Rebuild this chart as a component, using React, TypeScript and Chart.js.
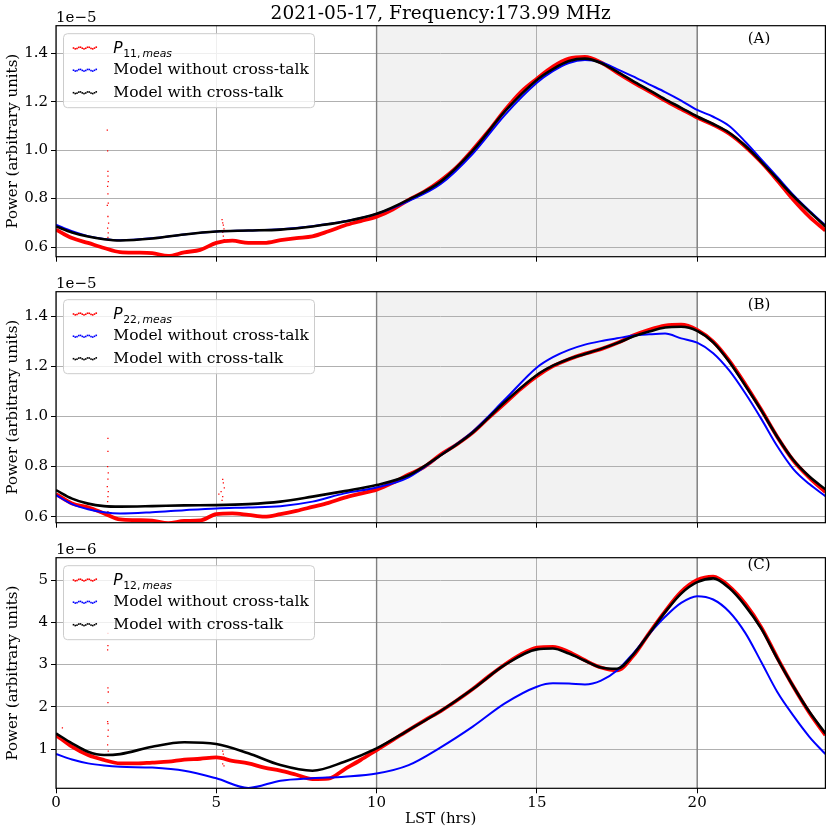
import React, { useEffect, useRef } from "react";
import { Chart, registerables } from "chart.js";

Chart.register(...registerables);

const TITLE = "2021-05-17, Frequency:173.99 MHz";
const X_TICKS = [0, 5, 10, 15, 20];
const SHADE_START = 10;
const SHADE_END = 20;
const LEGEND_MODEL_NO = "Model without cross-talk";
const LEGEND_MODEL_XT = "Model with cross-talk";

// model curves grid (hours)
const LST_MODEL = [0, 0.5, 1, 1.5, 2, 3, 4, 5, 6, 7, 8, 9, 10, 11, 12, 13, 14, 15, 15.5, 16, 16.5, 17, 17.5, 18, 18.5, 19, 19.5, 20, 20.5, 21, 21.5, 22, 22.5, 23, 23.5, 24];
// measured curves grid (hours)
const LST_MEAS = [0, 0.5, 1, 1.5, 2, 2.5, 3, 3.5, 4, 4.5, 5, 5.5, 6, 6.5, 7, 7.5, 8, 8.5, 9, 9.5, 10, 10.5, 11, 11.5, 12, 12.5, 13, 13.5, 14, 14.5, 15, 15.5, 16, 16.5, 17, 17.5, 18, 18.5, 19, 19.5, 20, 20.5, 21, 21.5, 22, 22.5, 23, 23.5, 24];

// Panel A (units of 1e-5)
const A_TICKS = [0.6, 0.8, 1.0, 1.2, 1.4];
const A_XT = [0.685, 0.66, 0.643, 0.632, 0.627, 0.635, 0.652, 0.664, 0.668, 0.672, 0.685, 0.705, 0.737, 0.796, 0.87, 0.998, 1.16, 1.29, 1.335, 1.368, 1.378, 1.36, 1.324, 1.285, 1.248, 1.21, 1.175, 1.139, 1.108, 1.072, 1.018, 0.952, 0.881, 0.81, 0.746, 0.685];
const A_NO = [0.692, 0.665, 0.645, 0.633, 0.628, 0.636, 0.652, 0.664, 0.668, 0.673, 0.686, 0.706, 0.737, 0.79, 0.86, 0.985, 1.145, 1.278, 1.326, 1.36, 1.372, 1.363, 1.335, 1.305, 1.272, 1.24, 1.205, 1.166, 1.138, 1.1, 1.035, 0.962, 0.889, 0.815, 0.75, 0.69];
const A_MEAS = [0.672, 0.637, 0.617, 0.596, 0.579, 0.577, 0.575, 0.563, 0.578, 0.588, 0.617, 0.626, 0.617, 0.617, 0.628, 0.637, 0.644, 0.665, 0.689, 0.707, 0.725, 0.755, 0.795, 0.83, 0.875, 0.93, 1.002, 1.08, 1.165, 1.24, 1.295, 1.345, 1.378, 1.385, 1.362, 1.32, 1.28, 1.243, 1.205, 1.17, 1.135, 1.105, 1.068, 1.015, 0.95, 0.875, 0.795, 0.725, 0.668];
const A_SPIKE_X = [1.6, 1.61, 1.62, 1.62, 1.63, 1.61, 1.62, 1.63, 1.6, 1.62, 1.64, 1.61, 1.63, 1.62, 5.18, 5.2, 5.22, 5.24, 5.2, 5.22, 5.25];
const A_SPIKE_Y = [1.083, 0.997, 0.912, 0.893, 0.87, 0.85, 0.819, 0.781, 0.772, 0.726, 0.699, 0.678, 0.658, 0.64, 0.713, 0.7, 0.69, 0.675, 0.66, 0.645, 0.63];

// Panel B (units of 1e-5)
const B_TICKS = [0.6, 0.8, 1.0, 1.2, 1.4];
const B_XT = [0.706, 0.672, 0.652, 0.642, 0.64, 0.642, 0.645, 0.646, 0.65, 0.66, 0.68, 0.702, 0.726, 0.765, 0.845, 0.936, 1.057, 1.165, 1.202, 1.229, 1.249, 1.269, 1.292, 1.318, 1.338, 1.354, 1.357, 1.341, 1.295, 1.218, 1.123, 1.024, 0.918, 0.826, 0.76, 0.709];
const B_NO = [0.686, 0.65, 0.63, 0.618, 0.613, 0.618, 0.626, 0.633, 0.637, 0.642, 0.66, 0.693, 0.716, 0.757, 0.845, 0.94, 1.067, 1.195, 1.236, 1.265, 1.286, 1.3, 1.311, 1.322, 1.327, 1.33, 1.311, 1.294, 1.252, 1.183, 1.092, 0.99, 0.881, 0.79, 0.73, 0.682];
const B_MEAS = [0.69, 0.653, 0.637, 0.613, 0.589, 0.586, 0.584, 0.574, 0.583, 0.585, 0.61, 0.613, 0.607, 0.6, 0.61, 0.623, 0.639, 0.655, 0.676, 0.692, 0.708, 0.735, 0.768, 0.8, 0.848, 0.888, 0.935, 0.995, 1.052, 1.11, 1.16, 1.2, 1.228, 1.25, 1.268, 1.292, 1.322, 1.345, 1.362, 1.366, 1.345, 1.298, 1.222, 1.128, 1.026, 0.918, 0.824, 0.756, 0.698];
const B_SPIKE_X = [1.62, 1.62, 1.61, 1.63, 1.62, 1.6, 1.63, 1.62, 1.61, 1.64, 1.62, 5.08, 5.15, 5.2, 5.22, 5.25, 5.2, 5.18];
const B_SPIKE_Y = [0.912, 0.86, 0.8, 0.775, 0.75, 0.72, 0.7, 0.68, 0.66, 0.64, 0.62, 0.69, 0.7, 0.749, 0.735, 0.715, 0.68, 0.665];

// Panel C (units of 1e-6)
const C_TICKS = [1, 2, 3, 4, 5];
const C_XT = [1.37, 1.135, 0.935, 0.858, 0.88, 1.055, 1.16, 1.12, 0.9, 0.621, 0.487, 0.7, 1.016, 1.45, 1.9, 2.42, 2.99, 3.36, 3.38, 3.26, 3.09, 2.93, 2.9, 3.23, 3.73, 4.24, 4.68, 4.95, 5.04, 4.81, 4.39, 3.85, 3.14, 2.48, 1.88, 1.37];
const C_NO = [0.882, 0.75, 0.66, 0.61, 0.58, 0.56, 0.487, 0.307, 0.08, 0.25, 0.307, 0.345, 0.42, 0.62, 1.04, 1.53, 2.08, 2.475, 2.555, 2.55, 2.53, 2.62, 2.86, 3.26, 3.72, 4.13, 4.46, 4.62, 4.54, 4.25, 3.75, 3.06, 2.35, 1.79, 1.29, 0.88];
const C_MEAS = [1.33, 1.055, 0.858, 0.74, 0.66, 0.66, 0.68, 0.7, 0.75, 0.77, 0.8, 0.72, 0.66, 0.56, 0.49, 0.39, 0.29, 0.3, 0.52, 0.74, 0.976, 1.21, 1.45, 1.68, 1.9, 2.15, 2.42, 2.72, 3.0, 3.24, 3.4, 3.42, 3.3, 3.1, 2.93, 2.86, 3.2, 3.74, 4.26, 4.72, 5.0, 5.08, 4.85, 4.44, 3.88, 3.16, 2.48, 1.86, 1.33];
const C_SPIKE_X = [1.62, 1.62, 1.61, 1.62, 1.63, 1.62, 1.61, 1.62, 1.63, 1.62, 1.61, 1.63, 0.2, 0.7, 5.2, 5.22, 5.25, 5.2, 5.24];
const C_SPIKE_Y = [3.74, 3.45, 3.35, 2.45, 2.35, 2.1, 1.65, 1.6, 1.45, 1.3, 1.1, 0.95, 1.5, 1.05, 0.95, 0.88, 0.8, 0.65, 0.6];

type PanelCfg = {
  top: number;
  height: number;
  padTop: number;
  xAxisH: number;
  yMin: number;
  yMax: number;
  yTicks: number[];
  yDecimals: number;
  xt: number[];
  no: number[];
  meas: number[];
  spikeX: number[];
  spikeY: number[];
  sub: string;
  offsetText: string;
  panelLabel: string;
  panelLabelDy: number;
  shade: string;
  showX: boolean;
  title?: string;
};

const PANELS: PanelCfg[] = [
  { top: 0, height: 270, padTop: 25.7, xAxisH: 13.3, yMin: 0.56, yMax: 1.514, yTicks: A_TICKS, yDecimals: 1, xt: A_XT, no: A_NO, meas: A_MEAS, spikeX: A_SPIKE_X, spikeY: A_SPIKE_Y, sub: "11", offsetText: "1e\u22125", panelLabel: "(A)", panelLabelDy: 13.6, shade: "#f2f2f2", showX: false, title: TITLE },
  { top: 270, height: 270, padTop: 21.7, xAxisH: 17.3, yMin: 0.576, yMax: 1.497, yTicks: B_TICKS, yDecimals: 1, xt: B_XT, no: B_NO, meas: B_MEAS, spikeX: B_SPIKE_X, spikeY: B_SPIKE_Y, sub: "22", offsetText: "1e\u22125", panelLabel: "(B)", panelLabelDy: 13.3, shade: "#f2f2f2", showX: false },
  { top: 540, height: 295, padTop: 17.7, xAxisH: 46.7, yMin: 0.07, yMax: 5.53, yTicks: C_TICKS, yDecimals: 0, xt: C_XT, no: C_NO, meas: C_MEAS, spikeX: C_SPIKE_X, spikeY: C_SPIKE_Y, sub: "12", offsetText: "1e\u22126", panelLabel: "(C)", panelLabelDy: 7, shade: "#f8f8f8", showX: true },
];

const SERIF = '"DejaVu Serif", serif';
const SANS = '"DejaVu Sans", sans-serif';

function zip(xs: number[], ys: number[]) {
  return xs.map((x, i) => ({ x, y: ys[i] }));
}

function drawMarker(ctx: CanvasRenderingContext2D, x0: number, y: number, color: string) {
  ctx.fillStyle = color;
  for (let i = 0; i < 14; i++) {
    const x = x0 + i * 1.75;
    const dy = Math.sin(i * 1.3) * 0.9;
    ctx.fillRect(x - 0.8, y + dy - 0.8, 1.6, 1.6);
  }
}

function makePlugin(cfg: PanelCfg) {
  return {
    id: "panelDeco",
    beforeDraw(chart: any) {
      const { ctx, chartArea: ca } = chart;
      const x = chart.scales.x;
      const x0 = x.getPixelForValue(SHADE_START);
      const x1 = x.getPixelForValue(SHADE_END);
      ctx.save();
      ctx.fillStyle = cfg.shade;
      ctx.fillRect(x0, ca.top, x1 - x0, ca.bottom - ca.top);
      ctx.restore();
    },
    beforeDatasetsDraw(chart: any) {
      const { ctx, chartArea: ca } = chart;
      const x = chart.scales.x;
      ctx.save();
      ctx.strokeStyle = "#808080";
      ctx.lineWidth = 1.4;
      for (const v of [SHADE_START, SHADE_END]) {
        const px = x.getPixelForValue(v);
        ctx.beginPath();
        ctx.moveTo(px, ca.top);
        ctx.lineTo(px, ca.bottom);
        ctx.stroke();
      }
      ctx.restore();
    },
    afterDraw(chart: any) {
      const { ctx, chartArea: ca } = chart;
      ctx.save();
      // frame
      ctx.strokeStyle = "#000";
      ctx.lineWidth = 1.2;
      ctx.strokeRect(ca.left, ca.top, ca.right - ca.left, ca.bottom - ca.top);

      // offset text
      ctx.fillStyle = "#000";
      ctx.font = `15px ${SERIF}`;
      ctx.textAlign = "left";
      ctx.textBaseline = "middle";
      ctx.fillText(cfg.offsetText, ca.left, ca.top - 7.2);

      // panel label
      ctx.textAlign = "center";
      ctx.fillText(cfg.panelLabel, 759, ca.top + cfg.panelLabelDy);

      // title
      if (cfg.title) {
        ctx.font = `18.5px ${SERIF}`;
        ctx.fillText(cfg.title, (ca.left + ca.right) / 2, 14);
      }

      // legend
      const lx = 63;
      const ly = ca.top + 7.5;
      const lw = 251;
      const lh = 74;
      ctx.beginPath();
      (ctx as any).roundRect(lx + 0.5, ly + 0.5, lw, lh, 4);
      ctx.fillStyle = "rgba(255,255,255,0.8)";
      ctx.fill();
      ctx.strokeStyle = "#cccccc";
      ctx.lineWidth = 1;
      ctx.stroke();

      const rows = [ca.top + 22.3, ca.top + 44.5, ca.top + 67];
      const colors = ["#ff0000", "#0000ff", "#000000"];
      rows.forEach((ry, i) => drawMarker(ctx, 73.5, ry, colors[i]));

      const tx = 113.3;
      ctx.fillStyle = "#000";
      ctx.textAlign = "left";
      ctx.textBaseline = "alphabetic";
      // P_{xx, meas}
      ctx.font = `italic 15.5px ${SANS}`;
      const base0 = rows[0] + 5.3;
      ctx.fillText("P", tx, base0);
      let cx = tx + ctx.measureText("P").width + 0.5;
      ctx.font = `10.8px ${SANS}`;
      const subBase = base0 + 3.2;
      ctx.fillText(cfg.sub + ",", cx, subBase);
      cx += ctx.measureText(cfg.sub + ",").width + 2.2;
      ctx.font = `italic 10.8px ${SANS}`;
      ctx.fillText("meas", cx, subBase);

      ctx.font = `15.5px ${SERIF}`;
      ctx.textBaseline = "middle";
      ctx.fillText(LEGEND_MODEL_NO, tx, rows[1]);
      ctx.fillText(LEGEND_MODEL_XT, tx, rows[2]);
      ctx.restore();
    },
  };
}

function PanelChart({ cfg }: { cfg: PanelCfg }) {
  const ref = useRef<HTMLCanvasElement>(null);
  useEffect(() => {
    const canvas = ref.current;
    if (!canvas) return;
    const tickFont = { family: SERIF, size: 15 };
    const chart = new Chart(canvas, {
      type: "line",
      data: {
        datasets: [
          {
            label: LEGEND_MODEL_XT,
            data: zip(LST_MODEL, cfg.xt),
            borderColor: "#000000",
            borderWidth: 2.6,
            pointRadius: 0,
            cubicInterpolationMode: "monotone",
            order: 1,
          },
          {
            label: LEGEND_MODEL_NO,
            data: zip(LST_MODEL, cfg.no),
            borderColor: "#0000ff",
            borderWidth: 2,
            pointRadius: 0,
            cubicInterpolationMode: "monotone",
            order: 2,
          },
          {
            label: "meas",
            data: zip(LST_MEAS, cfg.meas),
            borderColor: "#ff0000",
            borderWidth: 3.8,
            pointRadius: 0,
            cubicInterpolationMode: "monotone",
            order: 3,
          },
          {
            label: "spikes",
            data: zip(cfg.spikeX, cfg.spikeY),
            showLine: false,
            borderColor: "#ff0000",
            backgroundColor: "#ff0000",
            pointStyle: "rect",
            pointRadius: 0.9,
            pointBorderWidth: 0,
            order: 4,
          },
        ] as any,
      },
      options: {
        animation: false,
        responsive: false,
        maintainAspectRatio: false,
        events: [],
        layout: { padding: { top: cfg.padTop, right: 5.6, left: 0, bottom: 0 } },
        plugins: { legend: { display: false }, tooltip: { enabled: false }, title: { display: false } },
        scales: {
          x: {
            type: "linear",
            min: 0,
            max: 24,
            afterBuildTicks: (s: any) => {
              s.ticks = X_TICKS.map((v) => ({ value: v }));
            },
            afterFit: (s: any) => {
              s.height = cfg.xAxisH;
            },
            ticks: {
              display: cfg.showX,
              font: tickFont,
              color: "#000",
              padding: 1,
              maxRotation: 0,
              autoSkip: false,
              callback: (v: any) => String(v),
            },
            grid: { color: "#b0b0b0", lineWidth: 1, tickColor: "#000", tickLength: 5, drawTicks: true },
            border: { display: false },
            title: {
              display: cfg.showX,
              text: "LST (hrs)",
              font: tickFont,
              color: "#000",
              padding: { top: 0, bottom: 7 },
            },
          },
          y: {
            type: "linear",
            min: cfg.yMin,
            max: cfg.yMax,
            afterBuildTicks: (s: any) => {
              s.ticks = cfg.yTicks.map((v) => ({ value: v }));
            },
            afterFit: (s: any) => {
              s.width = 56;
            },
            ticks: {
              font: tickFont,
              color: "#000",
              padding: 3,
              autoSkip: false,
              callback: (v: any) => Number(v).toFixed(cfg.yDecimals),
            },
            grid: { color: "#b0b0b0", lineWidth: 1, tickColor: "#000", tickLength: 5, drawTicks: true },
            border: { display: false },
            title: {
              display: true,
              text: "Power (arbitrary units)",
              font: tickFont,
              color: "#000",
              padding: { top: 4, bottom: 0 },
            },
          },
        },
      } as any,
      plugins: [makePlugin(cfg) as any],
    });
    return () => chart.destroy();
  }, [cfg]);
  return (
    <canvas
      ref={ref}
      width={831}
      height={cfg.height}
      style={{ position: "absolute", left: 0, top: cfg.top, width: 831, height: cfg.height }}
    />
  );
}

export default function App() {
  return (
    <div style={{ position: "absolute", left: 0, top: 0, width: 831, height: 835, background: "#fff" }}>
      {PANELS.map((p, i) => (
        <PanelChart key={i} cfg={p} />
      ))}
    </div>
  );
}
